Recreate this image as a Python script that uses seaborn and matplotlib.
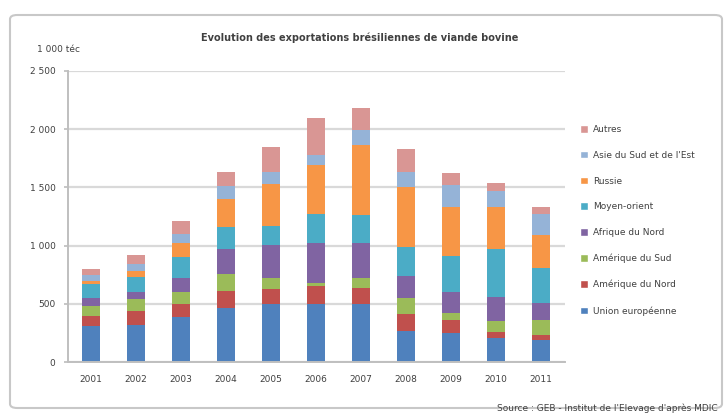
import pandas as pd
import matplotlib.pyplot as plt
import seaborn as sns
from matplotlib.patches import Patch, FancyBboxPatch

years = [2001, 2002, 2003, 2004, 2005, 2006, 2007, 2008, 2009, 2010, 2011]

# exports by destination, 1 000 tec
union_europeenne = [308, 320, 385, 460, 500, 500, 495, 270, 250, 210, 190]
amerique_du_nord = [90, 120, 110, 150, 125, 150, 140, 140, 110, 50, 40]
amerique_du_sud = [80, 100, 110, 150, 100, 30, 90, 140, 60, 90, 130]
afrique_du_nord = [75, 60, 120, 210, 280, 345, 295, 190, 180, 210, 150]
moyen_orient = [115, 130, 180, 190, 160, 250, 245, 250, 310, 410, 300]
russie = [25, 50, 115, 240, 360, 420, 600, 510, 420, 360, 280]
asie_sud_est = [55, 60, 80, 110, 110, 80, 125, 130, 190, 140, 180]
autres = [55, 80, 115, 120, 210, 320, 195, 200, 100, 70, 60]

regions = ["Union européenne", "Amérique du Nord", "Amérique du Sud",
           "Afrique du Nord", "Moyen-orient", "Russie",
           "Asie du Sud et de l'Est", "Autres"]
series = [union_europeenne, amerique_du_nord, amerique_du_sud, afrique_du_nord,
          moyen_orient, russie, asie_sud_est, autres]
colors = ["#4F81BD", "#C0504D", "#9BBB59", "#8064A2",
          "#4BACC6", "#F79646", "#95B3D7", "#D99694"]
palette = dict(zip(regions, colors))

rows = []
for region, values in zip(regions, series):
    for year, v in zip(years, values):
        rows.append({"annee": year, "region": region, "valeur": v})
df = pd.DataFrame(rows)

sns.set_theme(style="white")
plt.rcParams["font.family"] = ["DejaVu Sans"]

W, H = 725, 418
fig = plt.figure(figsize=(W / 100, H / 100), dpi=100)
ax = fig.add_axes([68 / W, 1 - 362 / H, (565 - 68) / W, (362 - 71) / H])

# histplot stacks the last hue level at the bottom
sns.histplot(data=df, x="annee", weights="valeur", hue="region",
             hue_order=regions[::-1], palette=palette, multiple="stack",
             discrete=True, shrink=0.4, alpha=1, linewidth=0,
             legend=False, ax=ax)

ax.set_xlim(2000.5, 2011.53)
ax.set_ylim(0, 2500)
ax.set_xticks(years)
ax.set_xticklabels([str(y) for y in years], fontsize=6.5, color="#404040")
ax.set_yticks([0, 500, 1000, 1500, 2000, 2500])
ax.set_yticklabels(["0", "500", "1 000", "1 500", "2 000", "2 500"],
                   fontsize=6.5, color="#404040")
ax.set_xlabel("")
ax.set_ylabel("")
ax.yaxis.grid(True, color="#D9D9D9", linewidth=1.6)
ax.set_axisbelow(True)
for side in ["top", "right"]:
    ax.spines[side].set_visible(False)
for side in ["left", "bottom"]:
    ax.spines[side].set_color("#BFBFBF")
    ax.spines[side].set_linewidth(1.4)
ax.tick_params(axis="y", length=3, color="#BFBFBF", pad=6, left=True)
ax.tick_params(axis="x", length=0, pad=9)

fig.text(360 / W, 1 - 38 / H,
         "Evolution des exportations brésiliennes de viande bovine",
         ha="center", va="center", fontsize=7, fontweight="bold", color="#404040")
fig.text(37 / W, 1 - 50 / H, "1 000 téc", ha="left", va="center",
         fontsize=6.5, color="#404040")
fig.text(718 / W, 1 - 408 / H,
         "Source : GEB - Institut de l'Elevage d'après MDIC",
         ha="right", va="center", fontsize=6.5, color="#404040")

handles = [Patch(facecolor=palette[r], label=r) for r in regions[::-1]]
fig.legend(handles=handles, loc="upper left", bbox_to_anchor=(572 / W, 1 - 117 / H),
           frameon=False, fontsize=6.5, handlelength=0.9, handleheight=0.9,
           handletextpad=0.5, labelspacing=1.85, labelcolor="#404040")

border = FancyBboxPatch((10 / W, 10 / H), (712 / W), (393 / H),
                        boxstyle="round,pad=0,rounding_size=0.01",
                        transform=fig.transFigure, facecolor="none",
                        edgecolor="#C8C8C8", linewidth=1.5)
fig.patches.append(border)

fig.savefig("out.png", dpi=100)
